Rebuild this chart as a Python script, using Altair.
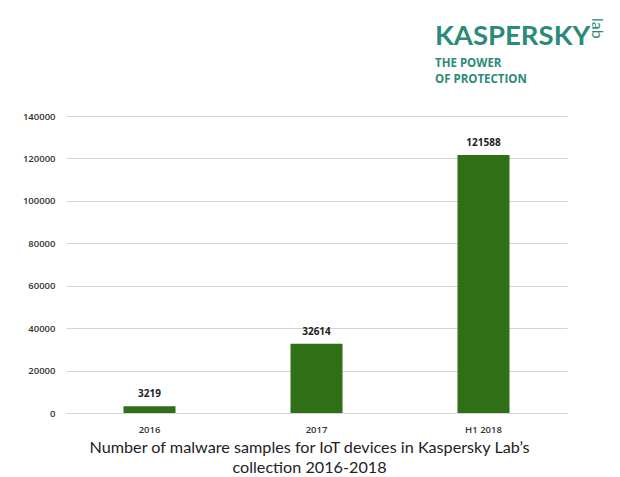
import altair as alt
import pandas as pd

categories = ["2016", "2017", "H1 2018"]
samples = [3219, 32614, 121588]
y_ticks = [0, 20000, 40000, 60000, 80000, 100000, 120000, 140000]

caption = ["Number of malware samples for IoT devices in Kaspersky Lab\u2019s",
           "collection 2016-2018"]

df = pd.DataFrame({"period": categories, "samples": samples})
one = pd.DataFrame({"k": [0]})

teal = "#2b8a78"
green = "#2f6f16"

base = alt.Chart(df).encode(
    x=alt.X("period:N", sort=categories, title=None,
            scale=alt.Scale(paddingInner=0, paddingOuter=0),
            axis=alt.Axis(labelAngle=0, ticks=False, tickSize=0, domain=False,
                          labelPadding=11, labelFont="Open Sans", labelFontSize=9.5,
                          labelFontWeight=600, labelColor="#333333")),
    y=alt.Y("samples:Q", title=None,
            scale=alt.Scale(domain=[0, 140000]),
            axis=alt.Axis(values=y_ticks, format="d", ticks=False, tickSize=0, domain=False,
                          labelPadding=11, labelFont="Open Sans", labelFontSize=9.5,
                          labelFontWeight=600, labelColor="#333333",
                          gridColor="#d4d4d4", gridWidth=1)),
)

bars = base.mark_bar(size=52, color=green)

labels = base.mark_text(dy=-7, baseline="bottom", font="Open Sans", fontSize=10,
                        fontWeight="bold", color="#222222").encode(text="samples:Q")

logo = alt.Chart(one).mark_text(text="KASPERSKY", align="left", baseline="alphabetic",
                                font="Lato", fontSize=27.5, fontWeight="bold",
                                color=teal).encode(x=alt.value(369), y=alt.value(-71))
lab = alt.Chart(one).mark_text(text="lab", align="left", baseline="middle", angle=90,
                               font="Lato", fontSize=16, color=teal).encode(
    x=alt.value(531), y=alt.value(-98))
power = alt.Chart(one).mark_text(text="THE POWER", align="left", baseline="alphabetic",
                                 font="Open Sans", fontSize=11.5, fontWeight="bold",
                                 color=teal).encode(x=alt.value(369), y=alt.value(-49))
protection = alt.Chart(one).mark_text(text="OF PROTECTION", align="left", baseline="alphabetic",
                                      font="Open Sans", fontSize=11.5, fontWeight="bold",
                                      color=teal).encode(x=alt.value(369), y=alt.value(-33))

chart = alt.layer(bars, labels, logo, lab, power, protection).properties(
    width=501,
    height=297,
    autosize="none",
    background="white",
    padding={"left": 58, "top": 108, "right": 45, "bottom": 62},
    title=alt.TitleParams(caption, orient="bottom", anchor="middle", dx=-7, offset=6,
                          font="Lato", fontSize=16.2, fontWeight="normal",
                          color="#222222", lineHeight=20),
).configure_view(stroke=None)

chart.save("out.html", embed_options={"renderer": "svg", "actions": False})
